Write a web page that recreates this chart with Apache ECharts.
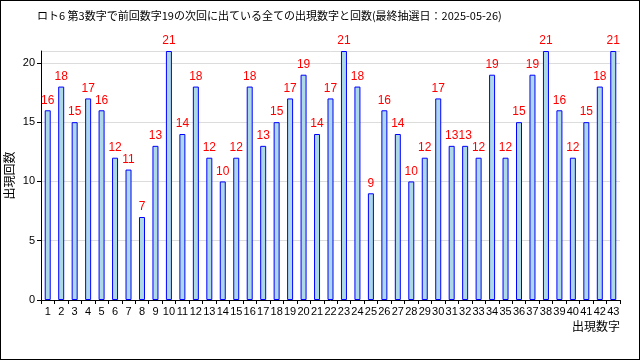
<!DOCTYPE html>
<html><head><meta charset="utf-8">
<script src="https://cdn.jsdelivr.net/npm/echarts@6/dist/echarts.min.js"></script>
<style>html,body{margin:0;padding:0;background:#fff}#c{width:640px;height:360px;box-sizing:border-box;border:1px solid #000}</style>
</head><body><div id="c"></div>
<script>
const titleText = 'ロト6 第3数字で前回数字19の次回に出ている全ての出現数字と回数(最終抽選日：2025-05-26)';
const categories = ['1','2','3','4','5','6','7','8','9','10','11','12','13','14','15','16','17','18','19','20','21','22','23','24','25','26','27','28','29','30','31','32','33','34','35','36','37','38','39','40','41','42','43'];
const counts = [16,18,15,17,16,12,11,7,13,21,14,18,12,10,12,18,13,15,17,19,14,17,21,18,9,16,14,10,12,17,13,13,12,19,12,15,19,21,16,12,15,18,21];
const xName = '出現数字';
const yName = '出現回数';

const chart = echarts.init(document.getElementById('c'), null, {renderer:'canvas'});
const font = '"Noto Sans CJK JP", sans-serif';
chart.setOption({
  animation: false,
  backgroundColor: '#fff',
  title: {text: titleText, left: 31, top: 4, textStyle: {fontFamily: font, fontSize: 11, fontWeight: 'normal', color: '#000'}},
  grid: {left: 40, right: 19, top: 50, bottom: 59, containLabel: false, outerBoundsMode: 'none'},
  xAxis: {
    type: 'category', data: categories,
    name: xName, nameLocation: 'end', nameGap: 0, nameMoveOverlap: false,
    nameTextStyle: {fontFamily: font, fontSize: 12, color: '#000', align: 'right', verticalAlign: 'top', padding: [20, 0, 0, 0]},
    axisLine: {lineStyle: {color: '#000'}},
    axisTick: {show: true, alignWithLabel: false, length: 4, lineStyle: {color: '#000'}},
    axisLabel: {interval: 0, fontFamily: '"Liberation Sans", sans-serif', fontSize: 11, color: '#000', margin: 6}
  },
  yAxis: {
    type: 'value', min: 0, max: 21, interval: 5,
    name: yName, nameLocation: 'middle', nameGap: 26, nameRotate: 90, nameMoveOverlap: false,
    nameTextStyle: {fontFamily: font, fontSize: 12, color: '#000'},
    axisLine: {show: true, lineStyle: {color: '#000'}},
    axisTick: {show: true, length: 4, lineStyle: {color: '#000'}},
    axisLabel: {fontFamily: '"Liberation Sans", sans-serif', fontSize: 11, color: '#000', margin: 6, showMaxLabel: false},
    splitLine: {show: true, lineStyle: {color: '#dcdcdc'}}
  },
  series: [{
    type: 'bar', data: counts, barWidth: 6,
    itemStyle: {color: '#ADD8E6', borderColor: '#0000FF', borderWidth: 1},
    label: {show: true, position: 'top', distance: 4, color: '#FF0000', fontFamily: '"Liberation Sans", sans-serif', fontSize: 12}
  }]
});
</script></body></html>
